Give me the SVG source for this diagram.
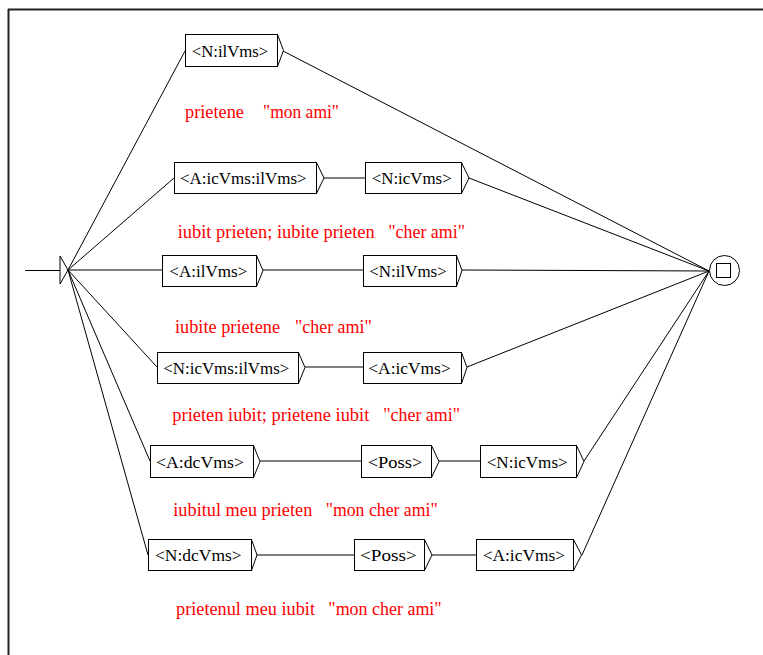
<svg xmlns="http://www.w3.org/2000/svg" width="763" height="655" viewBox="0 0 763 655">
<style>
.box{fill:#fff;stroke:#000;stroke-width:1}
.chev{fill:none;stroke:#000;stroke-width:1}
.t{font-family:"Liberation Serif","Times New Roman",serif;font-size:17px;fill:#000}
.r{font-family:"Liberation Serif","Times New Roman",serif;font-size:18px;fill:#ff0000}
.c{fill:none;stroke:#000;stroke-width:1}
</style>
<rect width="763" height="655" fill="#fff"/>
<g id="frame">
<line x1="8" y1="9.5" x2="763" y2="9.5" stroke="#222" stroke-width="2"/>
<line x1="8.5" y1="9" x2="8.5" y2="655" stroke="#222" stroke-width="2"/>
</g>
<g id="connectors">
<path class="c" d="M68 270 L185 51 M68 270 L174 178 M68 270 L162 270 M68 270 L157 367 M68 270 L150 461 M68 270 L148 555"/>
<path class="c" d="M324 178 H365 M263 270 H363 M305 367 H363 M260 461 H361 M439 461 H480 M257 555 H354 M432 555 H476"/>
<path class="c" d="M283 51 L709 271 M469 178 L709 271 M462 270 L709 271 M467 367 L709 271 M584 461 L709 271 M582 555 L709 271"/>
</g>
<g id="initial">
<line class="c" x1="25" y1="270.5" x2="60" y2="270.5"/>
<polyline class="c" points="60,256 68,270 60,284 60,256"/>
</g>
<g id="final">
<circle class="c" cx="724.5" cy="270.5" r="15"/>
<rect class="c" x="716.5" y="263.5" width="14" height="14"/>
</g>
<g id="n1">
<rect class="box" x="185.5" y="34.5" width="92" height="32"/>
<polyline class="chev" points="277.5,34.5 283.5,50.5 277.5,66.5"/>
<text class="t" x="191.7" y="56.5" textLength="76.6" lengthAdjust="spacingAndGlyphs">&lt;N:ilVms&gt;</text>
</g>
<g id="n2">
<rect class="box" x="174.5" y="162.5" width="142" height="31"/>
<polyline class="chev" points="316.5,162.5 324,178 316.5,193.5"/>
<text class="t" x="180" y="184" textLength="126.7" lengthAdjust="spacingAndGlyphs">&lt;A:icVms:ilVms&gt;</text>
</g>
<g id="n3">
<rect class="box" x="365.5" y="162.5" width="96" height="31"/>
<polyline class="chev" points="461.5,162.5 469,178 461.5,193.5"/>
<text class="t" x="371.7" y="184" textLength="80" lengthAdjust="spacingAndGlyphs">&lt;N:icVms&gt;</text>
</g>
<g id="n4">
<rect class="box" x="162.5" y="255.5" width="94" height="31"/>
<polyline class="chev" points="256.5,255.5 263,270.5 256.5,286.5"/>
<text class="t" x="169.3" y="277" textLength="78" lengthAdjust="spacingAndGlyphs">&lt;A:ilVms&gt;</text>
</g>
<g id="n5">
<rect class="box" x="363.5" y="255.5" width="93" height="31"/>
<polyline class="chev" points="456.5,255.5 462,270.5 456.5,286.5"/>
<text class="t" x="369.3" y="277" textLength="77.4" lengthAdjust="spacingAndGlyphs">&lt;N:ilVms&gt;</text>
</g>
<g id="n6">
<rect class="box" x="157.5" y="352.5" width="141" height="31"/>
<polyline class="chev" points="298.5,352.5 305,367.5 298.5,383.5"/>
<text class="t" x="163.3" y="374" textLength="126" lengthAdjust="spacingAndGlyphs">&lt;N:icVms:ilVms&gt;</text>
</g>
<g id="n7">
<rect class="box" x="363.5" y="352.5" width="98" height="31"/>
<polyline class="chev" points="461.5,352.5 467,367.5 461.5,383.5"/>
<text class="t" x="368.3" y="374" textLength="82.4" lengthAdjust="spacingAndGlyphs">&lt;A:icVms&gt;</text>
</g>
<g id="n8">
<rect class="box" x="150.5" y="445.5" width="103" height="32"/>
<polyline class="chev" points="253.5,445.5 260,461.5 253.5,477.5"/>
<text class="t" x="156" y="467.5" textLength="88" lengthAdjust="spacingAndGlyphs">&lt;A:dcVms&gt;</text>
</g>
<g id="n9">
<rect class="box" x="361.5" y="445.5" width="70" height="32"/>
<polyline class="chev" points="431.5,445.5 439,461.5 431.5,477.5"/>
<text class="t" x="367.7" y="467.5" textLength="54.6" lengthAdjust="spacingAndGlyphs">&lt;Poss&gt;</text>
</g>
<g id="n10">
<rect class="box" x="480.5" y="445.5" width="96" height="32"/>
<polyline class="chev" points="576.5,445.5 584,461.5 576.5,477.5"/>
<text class="t" x="486.7" y="467.5" textLength="81" lengthAdjust="spacingAndGlyphs">&lt;N:icVms&gt;</text>
</g>
<g id="n11">
<rect class="box" x="148.5" y="539.5" width="103" height="31"/>
<polyline class="chev" points="251.5,539.5 257,555 251.5,570.5"/>
<text class="t" x="155" y="561" textLength="86.7" lengthAdjust="spacingAndGlyphs">&lt;N:dcVms&gt;</text>
</g>
<g id="n12">
<rect class="box" x="354.5" y="539.5" width="70" height="31"/>
<polyline class="chev" points="424.5,539.5 432,555 424.5,570.5"/>
<text class="t" x="360" y="561" textLength="56.7" lengthAdjust="spacingAndGlyphs">&lt;Poss&gt;</text>
</g>
<g id="n13">
<rect class="box" x="476.5" y="539.5" width="97" height="31"/>
<polyline class="chev" points="573.5,539.5 581.5,555 573.5,570.5"/>
<text class="t" x="482.7" y="561" textLength="82.3" lengthAdjust="spacingAndGlyphs">&lt;A:icVms&gt;</text>
</g>
<g id="labels">
<text class="r" x="185" y="118" textLength="59" lengthAdjust="spacingAndGlyphs">prietene</text>
<text class="r" x="263" y="118" textLength="76" lengthAdjust="spacingAndGlyphs">"mon ami"</text>
<text class="r" x="177.7" y="238" textLength="197" lengthAdjust="spacingAndGlyphs">iubit prieten; iubite prieten</text>
<text class="r" x="388.3" y="238" textLength="76.7" lengthAdjust="spacingAndGlyphs">"cher ami"</text>
<text class="r" x="175" y="333" textLength="105" lengthAdjust="spacingAndGlyphs">iubite prietene</text>
<text class="r" x="295" y="333" textLength="76.7" lengthAdjust="spacingAndGlyphs">"cher ami"</text>
<text class="r" x="172.3" y="421" textLength="197" lengthAdjust="spacingAndGlyphs">prieten iubit; prietene iubit</text>
<text class="r" x="383.3" y="421" textLength="76.7" lengthAdjust="spacingAndGlyphs">"cher ami"</text>
<text class="r" x="173.3" y="516" textLength="139" lengthAdjust="spacingAndGlyphs">iubitul meu prieten</text>
<text class="r" x="325.7" y="516" textLength="112" lengthAdjust="spacingAndGlyphs">"mon cher ami"</text>
<text class="r" x="176" y="615" textLength="139" lengthAdjust="spacingAndGlyphs">prietenul meu iubit</text>
<text class="r" x="328.3" y="615" textLength="113.4" lengthAdjust="spacingAndGlyphs">"mon cher ami"</text>
</g>
</svg>
